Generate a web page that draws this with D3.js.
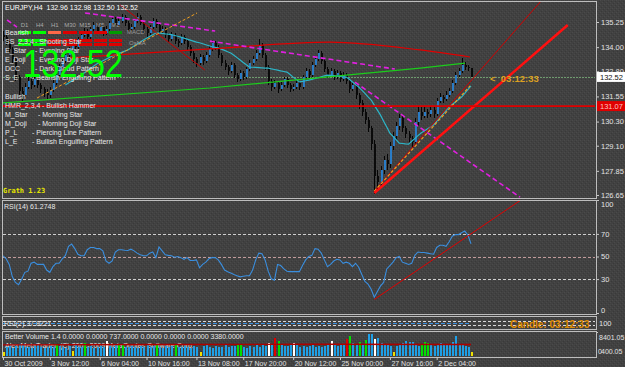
<!DOCTYPE html>
<html><head><meta charset="utf-8">
<script src="https://cdn.jsdelivr.net/npm/d3@7"></script>
<style>
html,body{margin:0;padding:0;background:#414141;overflow:hidden}
svg{display:block}
</style></head><body>
<svg id="chart" width="625" height="367"></svg>
<script>
// ---------------- DATA ----------------
const symbolHeader = "EURJPY,H4  132.96 132.98 132.50 132.52";
const firstOpen = 134.60;
const closes = [134.50,134.20,133.90,133.40,132.50,131.80,131.60,132.00,132.30,132.10,
132.40,132.10,131.90,131.70,131.60,131.85,132.20,132.60,133.00,133.30,
133.60,133.90,134.20,134.00,134.40,134.60,134.80,134.50,134.90,135.10,
134.80,135.00,134.70,134.90,135.20,135.40,135.10,135.30,135.50,135.20,
134.90,135.00,135.30,135.50,135.20,134.90,134.70,135.00,135.30,135.10,
134.80,134.90,134.60,134.40,134.60,134.30,134.20,134.50,134.30,134.00,
133.70,133.40,133.20,133.50,133.30,133.60,133.90,134.20,134.00,133.60,
133.20,133.00,132.80,133.10,132.60,132.40,132.70,132.50,132.90,133.20,
133.40,133.70,134.10,133.60,133.00,132.30,132.00,132.20,131.90,132.10,
132.40,132.10,131.90,132.00,132.20,132.00,132.50,132.80,132.60,133.10,
133.40,133.70,133.30,132.90,132.60,132.80,132.50,132.70,132.40,132.60,
132.30,131.90,132.10,131.60,131.20,130.80,130.40,130.00,129.20,127.60,
127.30,127.90,128.40,128.20,129.10,129.60,130.10,130.50,130.00,129.70,
129.50,129.30,130.30,130.80,130.60,130.80,130.70,130.90,130.70,131.30,
131.50,131.40,131.60,131.80,132.20,132.60,132.80,133.10,133.00,132.96,
132.52];
const highs = [134.80,134.60,134.30,134.00,133.50,132.60,132.00,132.20,132.50,132.40,
132.60,132.50,132.20,132.00,131.90,132.00,132.35,132.70,133.15,133.40,
133.75,134.00,134.35,134.30,134.50,134.75,134.95,134.90,135.00,135.25,
135.20,135.15,135.10,135.05,135.30,135.55,135.50,135.45,135.65,135.60,
135.30,135.15,135.40,135.70,135.60,135.30,135.00,135.10,135.45,135.40,
135.20,135.05,135.00,134.70,134.75,134.70,134.40,134.65,134.60,134.40,
134.10,133.80,133.50,133.65,133.60,133.75,134.05,134.35,134.30,134.10,
133.70,133.35,133.10,133.25,133.20,132.70,132.85,132.80,133.00,133.35,
133.55,133.85,134.40,134.20,133.70,133.10,132.40,132.35,132.30,132.25,
132.50,132.50,132.20,132.15,132.35,132.30,132.60,132.95,132.90,133.25,
133.55,133.85,133.80,133.40,133.00,132.95,132.90,132.85,132.80,132.75,
132.70,132.40,132.25,132.20,131.70,131.35,130.95,130.55,130.10,129.40,
127.90,128.10,128.60,128.70,129.30,129.80,130.30,130.70,130.60,130.10,
129.85,129.60,130.50,131.05,131.00,131.00,130.95,131.05,131.00,131.45,
131.70,131.60,131.80,131.95,132.35,132.75,132.95,133.45,133.25,133.10,
132.98];
const lows = [134.30,134.10,133.70,133.20,132.30,131.50,131.30,131.50,131.90,131.90,
132.00,131.95,131.70,131.50,131.40,131.45,131.75,132.10,132.50,132.90,
133.20,133.50,133.80,133.85,133.90,134.30,134.50,134.35,134.40,134.80,
134.65,134.70,134.55,134.60,134.80,135.10,135.00,135.00,135.20,135.05,
134.75,134.80,134.90,135.20,135.10,134.70,134.50,134.60,134.90,134.95,
134.65,134.70,134.45,134.25,134.30,134.15,134.00,134.10,134.15,133.85,
133.55,133.20,133.00,133.10,133.10,133.20,133.50,133.80,133.85,133.45,
133.05,132.85,132.60,132.70,132.45,132.25,132.30,132.35,132.40,132.80,
133.10,133.30,133.60,133.45,132.85,132.10,131.80,131.90,131.70,131.80,
132.00,131.95,131.75,131.80,131.90,131.85,131.90,132.40,132.45,132.50,
133.00,133.30,133.15,132.75,132.45,132.50,132.35,132.40,132.25,132.30,
132.15,131.70,131.80,131.40,130.95,130.60,130.20,129.80,128.90,126.70,
126.90,127.10,127.70,127.90,128.00,128.90,129.40,129.90,129.80,129.50,
129.20,129.00,129.20,130.10,130.40,130.50,130.50,130.55,130.50,130.60,
131.20,131.20,131.30,131.50,131.70,132.10,132.50,132.70,132.85,132.80,
132.50];
const maStart = 20;
const maValues = [132.12,132.22,132.32,132.42,132.52,132.61,132.72,132.83,132.94,133.05,
133.16,133.24,133.32,133.40,133.48,133.56,133.62,133.68,133.74,133.80,
133.86,133.96,134.06,134.16,134.26,134.35,134.44,134.53,134.62,134.70,
134.70,134.68,134.66,134.65,134.62,134.58,134.54,134.50,134.45,134.40,
134.35,134.30,134.25,134.22,134.17,134.12,134.07,134.02,133.99,133.96,
133.90,133.84,133.77,133.71,133.60,133.48,133.36,133.24,133.12,133.01,
133.00,132.99,132.98,132.97,132.96,132.96,132.92,132.89,132.86,132.82,
132.79,132.76,132.64,132.51,132.39,132.27,132.30,132.33,132.36,132.40,
132.44,132.48,132.53,132.57,132.61,132.60,132.58,132.56,132.54,132.52,
132.51,132.40,132.27,132.14,132.02,131.86,131.70,131.53,131.37,131.12,
130.87,130.62,130.32,130.03,129.73,129.56,129.40,129.23,129.21,129.19,
129.18,129.32,129.46,129.60,129.73,129.83,129.93,130.03,130.13,130.31,
130.49,130.67,130.85,131.02,131.15,131.27,131.40,131.52,131.70,131.89,
132.07];
const rsiValues = [50.6,48,43,32,27,25,30,36,37,44,
45,43,43,43,38,36,41,44,44,48,
51,59,61,57,52,50.6,50.6,56,58,58,
57,57,55,46,44,46,54,56,56,55.5,
55.3,56.5,55,53,51.5,50.6,50.6,53,54,49,
58.4,55,51.5,51,50.6,49.4,50,49,47.5,49,
46.5,46.5,47,40,43,45,48,49,49,47,
43,38,36.5,35.3,34,33,32,32.5,33,33,
38,47,53,52.5,47,37,30.3,29,43,42,
39,37,36.6,36.6,36.6,36.6,42,47,50,51,
57,56.5,53,47,41,43,46,47.5,47,44,
45,44,41,44,40.5,34,28,25.5,21,14,
19,24,27,39,42,45,49,50,45,44,
43,44,51,54,53.5,53.5,53,52.5,52,58,
60,60,59,63,68,69.4,69.4,71,72.5,69,
61.27];
const volumes = [1500,
3200,3600,2900,3400,4100,3800,3000,3300,2800,3500,
3700,3100,2900,3300,3600,3000,4300,3400,3100,2700,
3500,1600,3800,3200,3000,4400,3300,3600,2900,3100,
3400,3000,5200,3500,3200,3800,4200,3900,3300,3000,
3600,3100,2900,3400,3200,3700,3000,3500,4000,3300,
2800,3400,3100,3600,3900,3200,3000,3500,3300,2900,
3600,3100,1500,3400,3700,3200,2900,3500,3100,3300,
3800,3000,3400,3600,4300,4000,3200,2900,3500,3100,
3700,3300,3900,3400,4600,3800,6400,5200,4000,3600,
3400,4100,4600,3800,3300,3600,3100,3500,3900,3200,
3600,3000,3400,3700,5200,4300,3600,3900,4100,6000,
6900,4500,3800,5000,4200,5600,7600,7800,5800,6200,
4700,4300,3900,3500,1500,3600,4000,4600,5300,4800,
5000,3900,3600,4200,4800,4600,3800,3400,3700,4400,
4100,3700,4300,4900,7000,4200,3800,3600,3200,1400];
const volMarkIdx  = [0,17,22,26,33,37,38,49,55,63,75,76,85,87,88,93,105,110,111,114,116,119,125,134,135,136,150];
const volMarkType = ["y","g","y","g","w","g","g","g","g","y","g","g","w","r","g","w","w","r","g","g","g","w","y","g","g","g","y"];
const volMAIdx = [0,50,100,150];
const volMAVals = [3900,4000,4100,4000];
const volMax = 8401.05;

const timeTickIdx = [0,15,31,46,62,77,93,108,124,139];
const timeTickLabels = ["30 Oct 2009","3 Nov 12:00","6 Nov 04:00","10 Nov 16:00","13 Nov 08:00","17 Nov 20:00","20 Nov 12:00","25 Nov 00:00","27 Nov 16:00","2 Dec 04:00"];
const priceTicks = [135.25,134.00,132.80,131.55,130.30,129.10,127.85,126.65];
const rsiTicks = [100,70,50,30,0];
const rsiLevels = [70,50,30];
const bidPrice = 132.52;
const redLevel = 131.07;

// trend objects: [barIndex, price]
const thickRedLine = [[119,126.75],[181,135.10]];
const thinRedLine  = [[119,126.85],[172.5,136.30]];
const redDiagLine  = [[37.5,136.10],[64.7,132.86]];
const orangeLowLine  = [[119,126.84],[149.7,132.07]];
const orangeHighLine = [[10.9,131.47],[62.2,135.70]];
const greenLine = [[-1,131.22],[66.3,131.97],[133.7,132.96],[148.1,133.21]];
const redArc = [[21.5,133.46],[66.3,133.91],[104.8,134.25],[133.7,133.86],[149.7,133.51]];
const magentaLines = [
  [[1.3,135.35],[4.5,135.00]],
  [[26.3,135.70],[68,134.80]],
  [[66.3,134.30],[125.6,132.91]],
  [[112.8,132.26],[165.7,126.54]]
];
const rsiTrend = [[119,12],[166,100]];

const tfLabels = ["D1","H4","H1","M30","M15","M5","M1"];
const strengthRows = [
  ["G","G","S","R","R","R","D"],
  ["G","G","R","R","R","R","R"],
  ["G","G","R","R","R","R","R"]
];
const bearNames = ["SS_2,3,4","E_Star","E_Doji","DCC","S_E"];
const bearDesc  = ["- Shooting Star","- Evening Star","- Evening Doji Star","- Dark Cloud Pattern","- Bearish Engulfing Pattern"];
const bullNames = ["HMR_2,3,4","M_Star","M_Doji","P_L","L_E"];
const bullDesc  = ["- Bullish Hammer","- Morning Star","- Morning Doji Star","- Piercing Line Pattern","- Bullish Engulfing Pattern"];

// ---------------- LAYOUT / STYLE ----------------
const W = 625, H = 367;
const FONT = "Liberation Sans, Arial, sans-serif";
const frameCol = "#bdbdbd";
const txtCol = "#e8e8e8";
const bearDescX = [35,35,35,35,32];
const bullDescX = [42,38,38,32,32];
const strengthColor = {G:"#00ff00", S:"#ff6848", R:"#dc0000", D:"#009a00"};
const volColor = {b:"#1e9fe6", g:"#00e000", r:"#e00000", w:"#ffffff", y:"#f0e000"};

const svg = d3.select("#chart");
const defs = svg.append("defs");
const pat = defs.append("pattern").attr("id","bg").attr("width",4).attr("height",4).attr("patternUnits","userSpaceOnUse");
pat.append("rect").attr("width",4).attr("height",4).attr("fill","#414141");
[[0,0,"#4b4b4b"],[2,2,"#4a4a4a"],[1,3,"#393939"],[3,1,"#393939"],[2,0,"#454545"]].forEach(p=>
  pat.append("rect").attr("x",p[0]).attr("y",p[1]).attr("width",1).attr("height",1).attr("fill",p[2]));
svg.append("rect").attr("width",W).attr("height",H).attr("fill","url(#bg)");

function clip(id,x,y,w,h){ defs.append("clipPath").attr("id",id).append("rect").attr("x",x).attr("y",y).attr("width",w).attr("height",h); }
clip("cMain",3,2,592,196);
clip("cRsi",3,201,592,113);
clip("cRsi2",3,317,592,12);
clip("cVol",3,332,592,25);

// scales
const x = d3.scaleLinear().domain([0,150]).range([3,471]);
const yP = d3.scaleLinear().domain([126.65,135.25]).range([195,22]);
const yR = d3.scaleLinear().domain([0,100]).range([313,200]);
const yR2 = d3.scaleLinear().domain([0,100]).range([329,317]);
const yV = d3.scaleLinear().domain([0,volMax]).range([356,332]);

const lineP = d3.line().x(d=>x(d[0])).y(d=>yP(d[1]));
const lineR = d3.line().x(d=>x(d[0])).y(d=>yR(d[1]));

// ---------------- MAIN PANEL ----------------
const main = svg.append("g").attr("clip-path","url(#cMain)");
const idx = d3.range(closes.length);
const opens = idx.map(i => i===0 ? firstOpen : closes[i-1]);

main.append("line").attr("x1",3).attr("x2",595).attr("y1",Math.round(yP(bidPrice))+0.5).attr("y2",Math.round(yP(bidPrice))+0.5)
  .attr("stroke","#6e9a6e").attr("stroke-width",1).attr("stroke-dasharray","2,1");

const candles = main.append("g").attr("shape-rendering","crispEdges");
candles.selectAll("line").data(idx).join("line")
  .attr("x1",i=>Math.round(x(i))+0.5).attr("x2",i=>Math.round(x(i))+0.5)
  .attr("y1",i=>yP(highs[i])).attr("y2",i=>yP(lows[i]))
  .attr("stroke","#050505").attr("stroke-width",1);
candles.selectAll("rect").data(idx).join("rect")
  .attr("x",i=>Math.round(x(i))-0.5).attr("width",2)
  .attr("y",i=>yP(Math.max(opens[i],closes[i])))
  .attr("height",i=>Math.max(1,Math.abs(yP(opens[i])-yP(closes[i]))))
  .attr("fill",i=>closes[i]>opens[i] ? "#2a7cc6" : "#0a0a0a");

// moving average
main.append("path").datum(maValues.map((v,i)=>[i+maStart,v])).attr("d",lineP)
  .attr("fill","none").attr("stroke","#2cb6c8").attr("stroke-width",1.2);

// trend objects
main.append("path").attr("d",lineP(greenLine)).attr("fill","none").attr("stroke","#1ccc1c").attr("stroke-width",1.2);
main.append("path").attr("d",d3.line().curve(d3.curveMonotoneX).x(d=>x(d[0])).y(d=>yP(d[1]))(redArc)).attr("fill","none").attr("stroke","#e00000").attr("stroke-width",1.2);
main.append("path").attr("d",lineP(redDiagLine)).attr("fill","none").attr("stroke","#c80000").attr("stroke-width",1);
magentaLines.forEach(l=> main.append("path").attr("d",lineP(l)).attr("fill","none").attr("stroke","#e020e0").attr("stroke-width",1.6).attr("stroke-dasharray","5,3"));
main.append("path").attr("d",lineP(orangeHighLine)).attr("fill","none").attr("stroke","#f0a020").attr("stroke-width",1).attr("stroke-dasharray","3,2");
main.append("path").attr("d",lineP(thinRedLine)).attr("fill","none").attr("stroke","#d00000").attr("stroke-width",1);
main.append("path").attr("d",lineP(orangeLowLine)).attr("fill","none").attr("stroke","#f0a020").attr("stroke-width",1.2).attr("stroke-dasharray","3,2");
main.append("path").attr("d",lineP(thickRedLine)).attr("fill","none").attr("stroke","#ff1010").attr("stroke-width",2.6);
main.append("line").attr("x1",3).attr("x2",595).attr("y1",yP(redLevel)).attr("y2",yP(redLevel))
  .attr("stroke","#e00000").attr("stroke-width",1.6);

// strength matrix
const band = d3.scaleBand().domain(tfLabels).range([16,124]).padding(0.14);
const rowY = [31,39,43.4];
main.append("g").selectAll("text").data(tfLabels).join("text")
  .attr("x",d=>band(d)+band.bandwidth()/2).attr("y",27).attr("text-anchor","middle")
  .attr("font-family",FONT).attr("font-size",6).attr("fill","#a8a8a8").text(d=>d);
strengthRows.forEach((row,r)=>{
  main.append("g").attr("shape-rendering","crispEdges").selectAll("rect").data(row).join("rect")
    .attr("x",(d,i)=>band(tfLabels[i])).attr("width",band.bandwidth())
    .attr("y",rowY[r]).attr("height",3).attr("fill",d=>strengthColor[d]);
});
main.append("text").attr("x",127).attr("y",34).attr("font-family",FONT).attr("font-size",6).attr("fill","#9a9a9a").text("MACD");
main.append("text").attr("x",129).attr("y",45).attr("font-family",FONT).attr("font-size",6).attr("fill","#9a9a9a").text("OsMA");

// legend texts
const lg = svg.append("g").attr("font-family",FONT).attr("font-size",7).attr("fill",txtCol);
lg.append("text").attr("x",5).attr("y",10).attr("fill","#ffffff").attr("xml:space","preserve").text(symbolHeader);
lg.append("text").attr("x",5).attr("y",35).text("Bearish");
bearNames.forEach((n,i)=>{
  lg.append("text").attr("x",5).attr("y",44+i*9.1).text(n);
  lg.append("text").attr("x",bearDescX[i]).attr("y",44+i*9.1).text(bearDesc[i]);
});
lg.append("text").attr("x",5).attr("y",99).text("Bullish");
bullNames.forEach((n,i)=>{
  lg.append("text").attr("x",5).attr("y",108+i*9.1).text(n);
  lg.append("text").attr("x",bullDescX[i]).attr("y",108+i*9.1).text(bullDesc[i]);
});
svg.append("text").attr("x",3).attr("y",193).attr("font-family","DejaVu Sans Mono, monospace").attr("font-weight","bold")
  .attr("font-size",7).attr("fill","#e6e600").text("Grath 1.23");

// big price
svg.append("text").attr("x",23).attr("y",77).attr("font-family",FONT).attr("font-size",39)
  .attr("fill","#00ff00").attr("textLength",100).attr("lengthAdjust","spacingAndGlyphs").text(closes[closes.length-1].toFixed(2));

// timer label
svg.append("text").attr("x",490).attr("y",82).attr("font-family",FONT).attr("font-size",9.5).attr("font-weight","bold")
  .attr("fill","#dca020").attr("xml:space","preserve").text("<  03:12:33");

// price axis
const axP = svg.append("g").attr("transform","translate(596,0)")
  .call(d3.axisRight(yP).tickValues(priceTicks).tickFormat(d3.format(".2f")).tickSize(3).tickPadding(2));
function styleAxis(g, fs){
  g.select(".domain").remove();
  g.attr("font-family",FONT).attr("font-size",fs||7.5);
  g.selectAll(".tick line").attr("stroke","#c8c8c8");
  g.selectAll(".tick text").attr("fill","#e2e2e2");
}
styleAxis(axP);
[[bidPrice,"#ffffff","#111111"],[redLevel,"#e00000","#ffc0c0"]].forEach(b=>{
  const yy = yP(b[0]);
  svg.append("rect").attr("x",597).attr("y",yy-5).attr("width",28).attr("height",10).attr("fill",b[1]);
  svg.append("text").attr("x",600).attr("y",yy+3).attr("font-family",FONT).attr("font-size",7.5).attr("fill",b[2]).text(b[0].toFixed(2));
});

// ---------------- RSI PANEL ----------------
const rsiG = svg.append("g").attr("clip-path","url(#cRsi)");
rsiLevels.forEach(l=> rsiG.append("line").attr("x1",3).attr("x2",595).attr("y1",Math.round(yR(l))+0.5).attr("y2",Math.round(yR(l))+0.5)
  .attr("stroke", l===50 ? "#c09a9a" : "#cfcfcf").attr("stroke-width",1).attr("stroke-dasharray","3,2"));
rsiG.append("path").datum(rsiValues.map((v,i)=>[i,v])).attr("d",lineR).attr("fill","none").attr("stroke","#3a8ede").attr("stroke-width",1.1);
rsiG.append("path").attr("d",lineR(rsiTrend)).attr("fill","none").attr("stroke","#e00000").attr("stroke-width",1);
svg.append("text").attr("x",4).attr("y",209).attr("font-family",FONT).attr("font-size",7).attr("fill",txtCol)
  .text("RSI(14) " + (61.2748).toFixed(4));
const axR = svg.append("g").attr("transform","translate(596,0)")
  .call(d3.axisRight(yR).tickValues(rsiTicks).tickSize(3).tickPadding(2));
styleAxis(axR);
axR.selectAll(".tick text").attr("dy",d=> d===100 ? "0.9em" : (d===0 ? "-0.1em" : "0.32em"));

// ---------------- RSI(2) STRIP ----------------
const r2 = svg.append("g").attr("clip-path","url(#cRsi2)");
[70,30].forEach(l=> r2.append("line").attr("x1",3).attr("x2",595).attr("y1",Math.round(yR2(l))+0.5).attr("y2",Math.round(yR2(l))+0.5)
  .attr("stroke","#d8d8d8").attr("stroke-dasharray","3,2"));
r2.append("line").attr("x1",x(0)).attr("x2",x(150)).attr("y1",Math.round(yR2(50))+0.5).attr("y2",Math.round(yR2(50))+0.5)
  .attr("stroke","#3a8ede").attr("stroke-dasharray","4,2");
svg.append("text").attr("x",4).attr("y",326).attr("font-family",FONT).attr("font-size",7).attr("fill",txtCol).text("RSI(2) 37.8221");
svg.append("text").attr("x",510).attr("y",328).attr("font-family",FONT).attr("font-size",10).attr("font-weight","bold")
  .attr("fill","#e08c00").text("Candle: 03:12:33");
svg.append("text").attr("x",599).attr("y",326).attr("font-family",FONT).attr("font-size",7.5).attr("fill","#e2e2e2").text("100");

// ---------------- VOLUME PANEL ----------------
const volType = idx.map(()=> "b");
volMarkIdx.forEach((k,j)=> volType[k] = volMarkType[j]);
svg.append("text").attr("x",5).attr("y",339).attr("font-family",FONT).attr("font-size",7).attr("fill",txtCol)
  .text("Better Volume 1.4 0.0000 0.0000 737.0000 0.0000 0.0000 0.0000 3380.0000");
svg.append("text").attr("x",5).attr("y",348).attr("font-family",FONT).attr("font-size",7).attr("fill",txtCol)
  .text("Alex MetaTrader, (C) 2001-2009 MetaQuotes Software Corp.");
const vg = svg.append("g").attr("clip-path","url(#cVol)");
vg.append("g").attr("shape-rendering","crispEdges").selectAll("rect").data(idx).join("rect")
  .attr("x",i=>Math.round(x(i))-0.5).attr("width",2)
  .attr("y",i=>yV(volumes[i])).attr("height",i=>yV(0)-yV(volumes[i]))
  .attr("fill",i=>volColor[volType[i]]);
vg.append("path").datum(volMAIdx.map((k,j)=>[k,volMAVals[j]]))
  .attr("d",d3.line().x(d=>x(d[0])).y(d=>yV(d[1]))).attr("fill","none").attr("stroke","#b00000").attr("stroke-width",1.4);
const axV = svg.append("g").attr("transform","translate(596,0)")
  .call(d3.axisRight(yV).tickValues([volMax]).tickFormat(d3.format(".2f")).tickSize(2).tickPadding(1));
styleAxis(axV, 7);
axV.selectAll(".tick text").attr("dy","1.1em");
svg.append("text").attr("x",598).attr("y",354).attr("font-family",FONT).attr("font-size",7).attr("fill","#e2e2e2").text("0");
svg.append("text").attr("x",601).attr("y",354).attr("font-family",FONT).attr("font-size",7).attr("fill","#e2e2e2").text("400.05");

// ---------------- FRAMES ----------------
const fr = svg.append("g").attr("fill","none").attr("stroke",frameCol).attr("stroke-width",1).attr("shape-rendering","crispEdges");
[[2.5,1.5,198.5],[2.5,200.5,314.5],[2.5,316.5,329.5],[2.5,331.5,357.5]].forEach(f=>
  fr.append("rect").attr("x",f[0]).attr("y",f[1]).attr("width",596-f[0]).attr("height",f[2]-f[1]));

// ---------------- TIME AXIS ----------------
const axT = svg.append("g").attr("transform","translate(0,357)")
  .call(d3.axisBottom(x).tickValues(timeTickIdx).tickFormat((d,i)=>timeTickLabels[i]).tickSize(3).tickPadding(1));
axT.select(".domain").remove();
axT.attr("font-family",FONT).attr("font-size",7);
axT.selectAll(".tick line").attr("stroke","#c8c8c8");
axT.selectAll(".tick text").attr("fill","#e2e2e2").attr("text-anchor","start").attr("x",1);
</script>
</body></html>
